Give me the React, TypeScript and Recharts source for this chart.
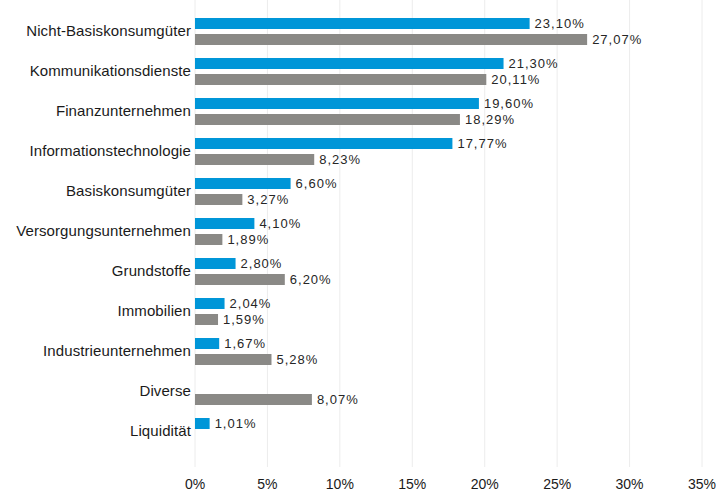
import { BarChart, Bar, XAxis, YAxis, CartesianGrid, LabelList } from "recharts";

const categories = [
  "Nicht-Basiskonsumgüter",
  "Kommunikationsdienste",
  "Finanzunternehmen",
  "Informationstechnologie",
  "Basiskonsumgüter",
  "Versorgungsunternehmen",
  "Grundstoffe",
  "Immobilien",
  "Industrieunternehmen",
  "Diverse",
  "Liquidität",
];

const fondsValues = [23.1, 21.3, 19.6, 17.77, 6.6, 4.1, 2.8, 2.04, 1.67, null, 1.01];
const benchmarkValues = [27.07, 20.11, 18.29, 8.23, 3.27, 1.89, 6.2, 1.59, 5.28, 8.07, null];

const xTicks = [0, 5, 10, 15, 20, 25, 30, 35];

const data = categories.map((name, i) => ({
  name,
  fonds: fondsValues[i],
  benchmark: benchmarkValues[i],
}));

const fmtValue = (v: any) =>
  v === null || v === undefined ? "" : `${Number(v).toFixed(2).replace(".", ",")}%`;

const FONT = "Liberation Sans, Arial, sans-serif";

export default function App() {
  return (
    <div style={{ position: "absolute", left: 0, top: 0, width: 716, height: 492, background: "#fff" }}>
      <BarChart
        width={716}
        height={492}
        data={data}
        layout="vertical"
        margin={{ top: 0, right: 14, left: 0, bottom: 0 }}
        barSize={11}
        barGap={5}
        barCategoryGap={0}
      >
        <CartesianGrid horizontal={false} stroke="#ececec" />
        <XAxis
          type="number"
          domain={[0, 35]}
          ticks={xTicks}
          tickFormatter={(v) => `${v}%`}
          axisLine={false}
          tickLine={false}
          tickSize={0}
          tickMargin={12}
          height={25}
          interval={0}
          tick={{ fontSize: 14, fill: "#1a1a1a", fontFamily: FONT }}
        />
        <YAxis
          type="category"
          dataKey="name"
          width={195}
          axisLine={false}
          tickLine={false}
          tickSize={0}
          tickMargin={4}
          interval={0}
          padding={{ top: 11, bottom: 16 }}
          tick={{ fontSize: 15, fill: "#1a1a1a", fontFamily: FONT, letterSpacing: 0.1 }}
        />
        <Bar dataKey="fonds" name="Fonds" fill="#0096d8" isAnimationActive={false}>
          <LabelList
            dataKey="fonds"
            position="right"
            offset={5}
            formatter={fmtValue}
            style={{ fontSize: 13, fill: "#262626", fontFamily: FONT, letterSpacing: 1 }}
          />
        </Bar>
        <Bar dataKey="benchmark" name="Benchmark" fill="#8a8986" isAnimationActive={false}>
          <LabelList
            dataKey="benchmark"
            position="right"
            offset={5}
            formatter={fmtValue}
            style={{ fontSize: 13, fill: "#262626", fontFamily: FONT, letterSpacing: 1 }}
          />
        </Bar>
      </BarChart>
    </div>
  );
}
